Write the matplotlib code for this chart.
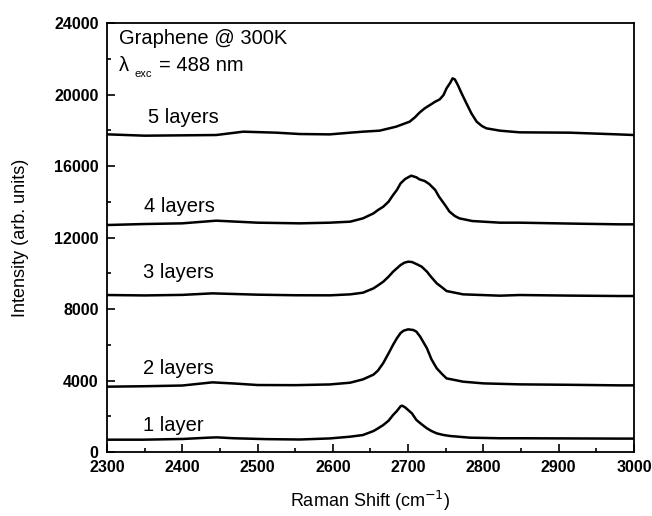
import matplotlib.pyplot as plt
from matplotlib.ticker import MultipleLocator

# values
x_1 = [2300, 2348, 2401, 2433, 2446, 2468, 2512, 2556, 2596, 2623, 2640, 2654, 2660, 2667,
       2674, 2680, 2685, 2690, 2692, 2696, 2700, 2705, 2711, 2718, 2725, 2731, 2738, 2747,
       2756, 2782, 2822, 2848, 2915, 2981, 3000]
y_1 = [690, 690, 730, 800, 820, 770, 720, 700, 760, 858, 951, 1175, 1324, 1510,
       1753, 2070, 2293, 2560, 2592, 2499, 2350, 2163, 1790, 1548, 1324, 1175, 1044, 951,
       895, 802, 770, 770, 760, 750, 750]

x_2 = [2300, 2350, 2400, 2440, 2470, 2500, 2550, 2596, 2623, 2640, 2654, 2660, 2667, 2674,
       2680, 2685, 2690, 2694, 2700, 2707, 2711, 2716, 2725, 2731, 2738, 2745, 2751, 2773,
       2800, 2848, 2915, 2981, 3000]
y_2 = [3655, 3680, 3720, 3897, 3830, 3748, 3740, 3780, 3878, 4064, 4330, 4560, 4980, 5520,
       6000, 6360, 6660, 6788, 6863, 6825, 6732, 6452, 5800, 5184, 4680, 4364, 4120, 3935,
       3840, 3785, 3760, 3729, 3729]

x_3 = [2300, 2350, 2400, 2440, 2500, 2550, 2596, 2623, 2640, 2654, 2660, 2667, 2674, 2680,
       2685, 2690, 2695, 2700, 2705, 2711, 2718, 2725, 2731, 2738, 2745, 2751, 2773, 2822,
       2848, 2915, 2981, 3000]
y_3 = [8783, 8760, 8790, 8876, 8802, 8770, 8765, 8820, 8913, 9156, 9324, 9529, 9809, 10089,
       10275, 10462, 10591, 10648, 10630, 10517, 10368, 10089, 9771, 9436, 9212, 9007, 8820, 8746,
       8783, 8750, 8727, 8727]

x_4 = [2300, 2350, 2400, 2445, 2500, 2556, 2596, 2623, 2640, 2654, 2660, 2667, 2674, 2680,
       2685, 2690, 2696, 2704, 2711, 2715, 2722, 2728, 2736, 2741, 2749, 2755, 2762, 2768,
       2785, 2822, 2848, 2915, 2981, 3000]
y_4 = [12699, 12755, 12793, 12942, 12830, 12793, 12830, 12886, 13072, 13352, 13539, 13725, 14004, 14378,
       14657, 15030, 15273, 15460, 15366, 15254, 15160, 14993, 14657, 14285, 13818, 13445, 13203, 13072,
       12923, 12830, 12830, 12780, 12737, 12737]

x_5 = [2300, 2350, 2400, 2445, 2481, 2525, 2556, 2596, 2623, 2640, 2662, 2684, 2702, 2709,
       2715, 2722, 2729, 2736, 2742, 2747, 2751, 2756, 2759, 2762, 2766, 2771, 2777, 2784,
       2791, 2798, 2804, 2822, 2848, 2915, 2977, 3000]
y_5 = [17772, 17697, 17716, 17734, 17921, 17865, 17790, 17770, 17865, 17921, 17977, 18200, 18480, 18723,
       18983, 19227, 19413, 19600, 19730, 19972, 20345, 20662, 20904, 20848, 20531, 20065, 19543, 18947,
       18480, 18237, 18108, 17977, 17884, 17865, 17772, 17734]

labels = ["1 layer", "2 layers", "3 layers", "4 layers", "5 layers"]
label_x = [2348, 2348, 2348, 2349, 2354]
label_y = [1510, 4690, 10020, 13710, 18690]

plt.rcParams['font.family'] = ['Liberation Sans', 'DejaVu Sans']

fig = plt.figure(figsize=(6.52, 5.16), dpi=100)
ax = fig.add_axes([0.1641, 0.124, 0.8083, 0.8314])

for xs, ys in [(x_1, y_1), (x_2, y_2), (x_3, y_3), (x_4, y_4), (x_5, y_5)]:
    ax.plot(xs, ys, color='black', lw=1.8)

for lab, lx, ly in zip(labels, label_x, label_y):
    ax.text(lx, ly, lab, fontsize=14.5, va='center', ha='left')

# header: "Graphene @ 300K" and lambda_exc line
ax.text(2316, 23140, "Graphene @ 300K", fontsize=14.5, va='center', ha='left')
ax.text(2316, 21650, "λ", fontsize=14.5, va='center', ha='left')
ax.text(2337, 21150, "exc", fontsize=8, va='center', ha='left')
ax.text(2369, 21650, "= 488 nm", fontsize=14.5, va='center', ha='left')

ax.set_xlim(2300, 3000)
ax.set_ylim(0, 24000)
ax.xaxis.set_major_locator(MultipleLocator(100))
ax.xaxis.set_minor_locator(MultipleLocator(50))
ax.yaxis.set_major_locator(MultipleLocator(4000))
ax.yaxis.set_minor_locator(MultipleLocator(2000))
ax.tick_params(which='both', direction='in', top=False, right=False, width=1.2)
ax.tick_params(which='major', length=5.5, labelsize=11.5)
ax.tick_params(axis='y', which='major', pad=6)
ax.tick_params(axis='x', which='major', pad=6)
ax.tick_params(which='minor', length=2.8)
for lab in ax.get_xticklabels() + ax.get_yticklabels():
    lab.set_fontweight('bold')
for sp in ax.spines.values():
    sp.set_linewidth(1.3)

ax.set_xlabel(r"Raman Shift (cm$^{-1}$)", fontsize=13, labelpad=10)
ax.set_ylabel("Intensity (arb. units)", fontsize=13, labelpad=18)

fig.savefig("out.png", dpi=100)
